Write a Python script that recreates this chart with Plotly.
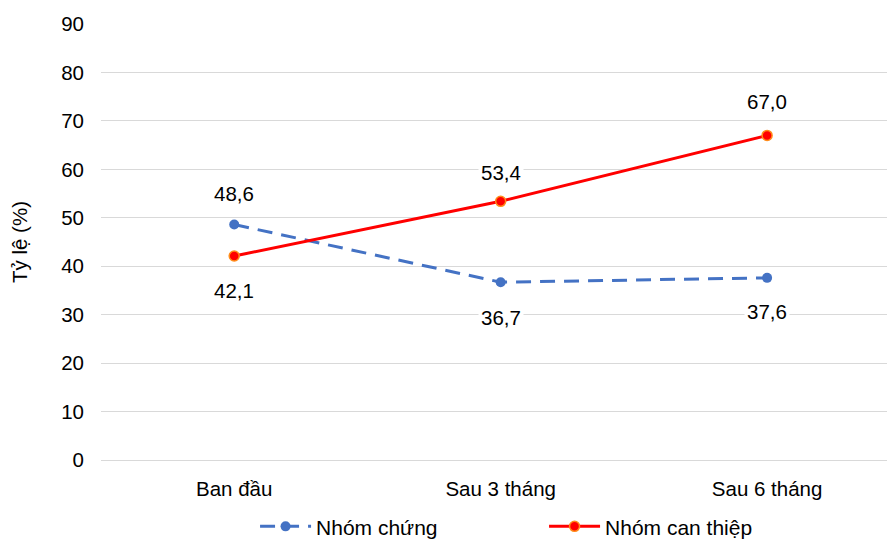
import plotly.graph_objects as go

categories = ["Ban đầu", "Sau 3 tháng", "Sau 6 tháng"]
control = [48.6, 36.7, 37.6]
intervention = [42.1, 53.4, 67.0]
series_names = ["Nhóm chứng", "Nhóm can thiệp"]
y_ticks = [0, 10, 20, 30, 40, 50, 60, 70, 80, 90]

# label offsets (px) for each point's value text
control_shift = [31, -35, -34]
intervention_shift = [-34, 29, 34]

FONT = "Liberation Sans, Arial, sans-serif"
FS = 20.5
x_pos = list(range(len(categories)))

fig = go.Figure()
fig.add_trace(go.Scatter(
    x=x_pos, y=control, name=series_names[0], mode="lines+markers",
    line=dict(color="#4472C4", width=3, dash="15px,9px"),
    marker=dict(color="#4472C4", size=10),
))
fig.add_trace(go.Scatter(
    x=x_pos, y=intervention, name=series_names[1], mode="lines+markers",
    line=dict(color="#FF0000", width=3),
    marker=dict(color="#FF0000", size=10, line=dict(color="#FF8C1A", width=1.5)),
))

def fmt(v):
    return f"{v:.1f}".replace(".", ",")

for ys, shifts in ((control, control_shift), (intervention, intervention_shift)):
    for x, y, s in zip(x_pos, ys, shifts):
        fig.add_annotation(x=x, y=y, text=fmt(y), showarrow=False, yshift=s,
                           bgcolor="white", borderpad=2,
                           font=dict(family=FONT, size=FS, color="#000000"))

fig.update_layout(
    width=887, height=539,
    margin=dict(l=101, r=0, t=24, b=79, autoexpand=False),
    paper_bgcolor="white", plot_bgcolor="white",
    font=dict(family=FONT, size=FS, color="#000000"),
    showlegend=True,
    legend=dict(orientation="h", x=0.196, xanchor="left",
                y=-0.106, yanchor="top", bgcolor="rgba(0,0,0,0)",
                font=dict(family=FONT, size=21), itemwidth=51,
                entrywidth=223, entrywidthmode="pixels"),
)
fig.update_xaxes(
    tickmode="array", tickvals=x_pos, ticktext=categories,
    range=[-0.5, 2.45], showgrid=False, zeroline=False, showline=False,
    ticks="", ticklabelstandoff=14,
)
fig.update_yaxes(
    range=[0, 90], tickvals=y_ticks, showgrid=True, gridcolor="#D9D9D9", gridwidth=1,
    zeroline=True, zerolinecolor="#D9D9D9", zerolinewidth=1,
    showline=False, ticks="", ticklabelstandoff=16,
    title=dict(text="Tỷ lệ (%)", font=dict(family=FONT, size=FS), standoff=28),
)

fig.write_html("out.html")
